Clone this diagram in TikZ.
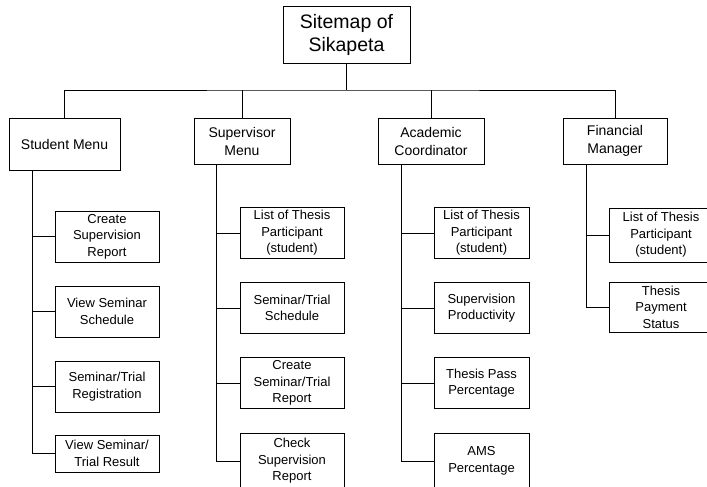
\documentclass[tikz,border=0pt]{standalone}
\usepackage{fontspec}
\setmainfont{Liberation Sans}
\usetikzlibrary{positioning}

\begin{document}
\begin{tikzpicture}[x=1pt,y=-1pt,line width=0.8pt,
    radice/.style={draw,align=center,inner sep=0pt,font=\fontsize{19.5}{23}\selectfont},
    menu/.style={draw,align=center,inner sep=0pt,minimum height=46pt,font=\fontsize{14}{18}\selectfont},
    voce/.style={draw,align=center,inner sep=0pt,minimum height=51pt,font=\fontsize{13}{16.5}\selectfont}]
    \clip (0,0) rectangle (707,487);
    % Radice
    \node[radice,minimum width=127pt,minimum height=57pt] (root) at (346.5,34.5) {Sitemap of\\Sikapeta};
    % Menu
    \node[menu,minimum width=111pt,minimum height=52pt] (stud) at (64.5,144) {Student Menu};
    \node[menu,minimum width=96pt] (sup) at (242,141) {Supervisor\\Menu};
    \node[menu,minimum width=106pt] (acad) at (431,141) {Academic\\Coordinator};
    \node[menu,minimum width=104pt] (fin) at (615,141) {Financial\\Manager};
    % Voci dello studente
    \node[voce,minimum width=104pt] (s1) at (107,236.5) {Create\\Supervision\\Report};
    \node[voce,minimum width=104pt] (s2) at (107,311.5) {View Seminar\\Schedule};
    \node[voce,minimum width=104pt] (s3) at (107,386.5) {Seminar/Trial\\Registration};
    \node[voce,minimum width=104pt,minimum height=37pt] (s4) at (107,453.5) {View Seminar/\\Trial Result};
    % Voci del supervisore
    \node[voce,minimum width=104pt] (v1) at (292,233) {List of Thesis\\Participant\\(student)};
    \node[voce,minimum width=104pt] (v2) at (292,308) {Seminar/Trial\\Schedule};
    \node[voce,minimum width=104pt] (v3) at (292,383) {Create\\Seminar/Trial\\Report};
    \node[voce,minimum width=104pt,minimum height=56pt] (v4) at (292,461) {Check\\Supervision\\Report};
    % Voci del coordinatore
    \node[voce,minimum width=95pt] (a1) at (481.5,233) {List of Thesis\\Participant\\(student)};
    \node[voce,minimum width=95pt] (a2) at (481.5,308) {Supervision\\Productivity};
    \node[voce,minimum width=95pt] (a3) at (481.5,383) {Thesis Pass\\Percentage};
    \node[voce,minimum width=95pt,minimum height=56pt] (a4) at (481.5,461) {AMS\\Percentage};
    % Voci del manager
    \node[voce,minimum width=104pt,minimum height=54pt] (f1) at (661,235) {List of Thesis\\Participant\\(student)};
    \node[voce,minimum width=104pt,minimum height=50pt] (f2) at (661,307) {Thesis\\Payment\\Status};
    % Collegamenti
    \coordinate (bus) at (346.5,90);
    \draw (root.south) -- (bus);
    \draw (stud.north) |- (bus) -| (fin.north);
    \draw (sup.north) -- (sup.north |- bus);
    \draw (acad.north) -- (acad.north |- bus);
    \coordinate (ss) at ([xshift=24pt]stud.south west);
    \coordinate (sv) at ([xshift=23pt]sup.south west);
    \coordinate (sa) at ([xshift=24pt]acad.south west);
    \coordinate (sf) at ([xshift=24pt]fin.south west);
    \draw (ss) |- (s4.west);
    \draw (sv) |- (v4.west);
    \draw (sa) |- (a4.west);
    \draw (sf) |- (f2.west);
    \foreach \i in {1,2,3} {
        \draw (s\i.west) -- (s\i.west -| ss);
        \draw (v\i.west) -- (v\i.west -| sv);
        \draw (a\i.west) -- (a\i.west -| sa);
    }
    \draw (f1.west) -- (f1.west -| sf);
\end{tikzpicture}
\end{document}
